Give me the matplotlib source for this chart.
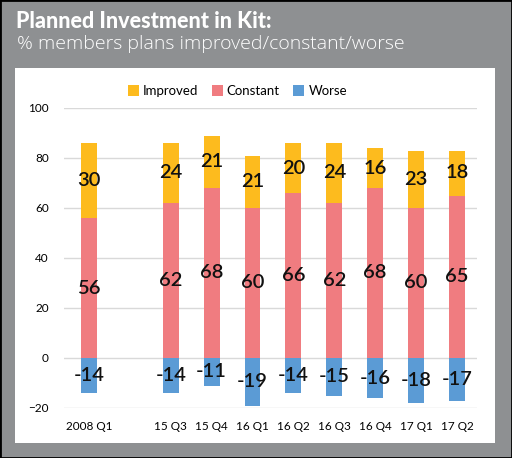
import numpy as np
import matplotlib.pyplot as plt
from matplotlib.patches import Rectangle

# data ('' is the empty gap slot)
quarters = ["2008 Q1", "", "15 Q3", "15 Q4", "16 Q1", "16 Q2", "16 Q3", "16 Q4", "17 Q1", "17 Q2"]
improved = [30, None, 24, 21, 21, 20, 24, 16, 23, 18]
constant = [56, None, 62, 68, 60, 66, 62, 68, 60, 65]
worse = [-14, None, -14, -11, -19, -14, -15, -16, -18, -17]

c_imp = "#FDBB1E"
c_con = "#F07C80"
c_wor = "#5B9BD5"
grey = "#8E9092"

plt.rcParams['font.family'] = ['Lato', 'DejaVu Sans']

fig = plt.figure(figsize=(5.12, 4.58), dpi=100)
fig.patch.set_facecolor(grey)
W, H = 512, 458

# outer border and white panel
fig.patches.append(Rectangle((0, 0), 1, 1, transform=fig.transFigure, fill=False,
                             edgecolor="black", linewidth=2, zorder=-1))
fig.patches.append(Rectangle((15 / W, 1 - 443 / H), 480 / W, 375 / H, transform=fig.transFigure,
                             facecolor="white", edgecolor="none", zorder=-1))

fig.text(16 / W, 1 - 11 / H, "Planned Investment in Kit:", color="white", fontsize=15.5,
         fontweight="black", va="top", ha="left")
fig.text(17 / W, 1 - 35 / H, "% members plans improved/constant/worse", color="white",
         fontsize=14, fontweight="light", family=["Open Sans", "DejaVu Sans"],
         va="top", ha="left")

ax = fig.add_axes([64 / W, 1 - 408 / H, 413 / W, 300 / H])
ax.set_facecolor("none")

x = np.arange(len(quarters))
idx = [i for i in x if improved[i] is not None]
imp = np.array([improved[i] for i in idx])
con = np.array([constant[i] for i in idx])
wor = np.array([worse[i] for i in idx])
w = 0.39

ax.bar(idx, con, w, color=c_con, label="Constant", zorder=2)
ax.bar(idx, imp, w, bottom=con, color=c_imp, label="Improved", zorder=2)
ax.bar(idx, wor, w, color=c_wor, label="Worse", zorder=2)

lab = dict(ha="center", va="center", fontsize=14.5, fontweight="semibold", color="#111111", zorder=3)
for i, a, b, c in zip(idx, imp, con, wor):
    ax.text(i, b + a / 2, str(a), **lab)
    ax.text(i, b / 2, str(b), **lab)
    ax.text(i, c / 2, str(c), **lab)

ax.set_ylim(-20, 100)
ax.set_yticks(range(-20, 101, 20))
ax.set_xlim(-0.61, 9.49)
ax.set_xticks(x)
ax.set_xticklabels(quarters)
ax.grid(axis="y", color="#D9D9D9", linewidth=1, zorder=0)
for s in ax.spines.values():
    s.set_visible(False)
ax.tick_params(length=0, labelsize=8.5)
ax.tick_params(axis="y", pad=11)
ax.tick_params(axis="x", pad=9)

h, l = ax.get_legend_handles_labels()
order = [1, 0, 2]
ax.legend([h[k] for k in order], [l[k] for k in order], loc="center",
          bbox_to_anchor=(0.42, 1.057), ncol=3, frameon=False, fontsize=9.5,
          handlelength=0.85, handleheight=0.85, columnspacing=1.0, handletextpad=0.3)

fig.savefig("out.png", dpi=100, facecolor=grey)
